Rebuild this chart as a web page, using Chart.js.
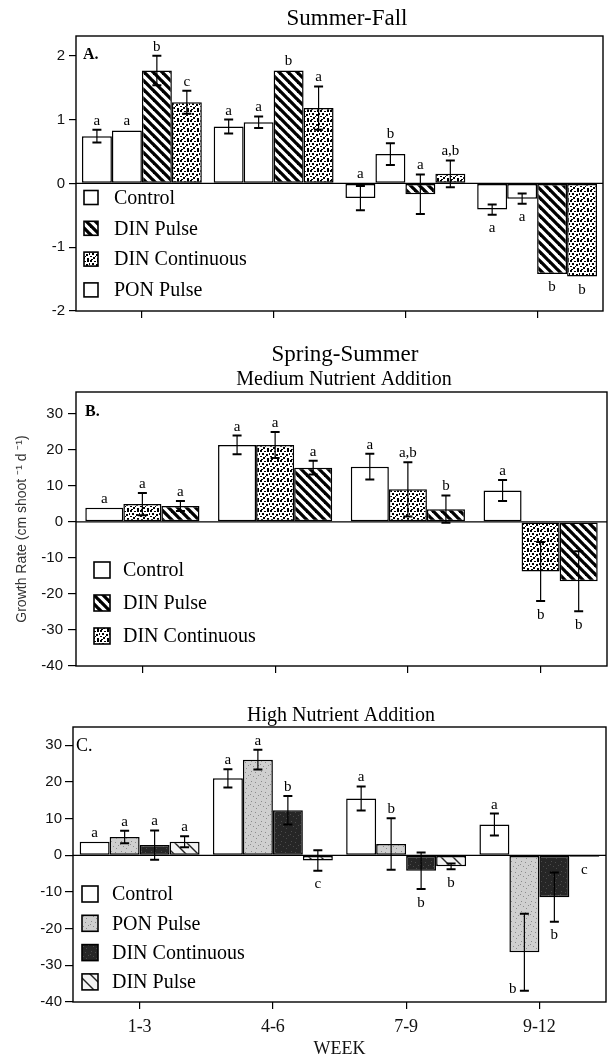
<!DOCTYPE html>
<html>
<head>
<meta charset="utf-8">
<script src="https://cdn.jsdelivr.net/npm/chart.js@4.4.1/dist/chart.umd.min.js"></script>
<style>
  html, body { margin: 0; padding: 0; background: #fff; }
  #fig { position: relative; width: 608px; height: 1060px; overflow: hidden; }
  #fig canvas { position: absolute; left: 0; }
</style>
</head>
<body>
<div id="fig">
  <canvas id="chartA" width="608" height="330" style="top:0px"></canvas>
  <canvas id="chartB" width="608" height="350" style="top:330px"></canvas>
  <canvas id="chartC" width="608" height="380" style="top:680px"></canvas>
</div>
<script>
// categories
const weeks = ["1-3", "4-6", "7-9", "9-12"];

// A. Summer-Fall
const ticksA = [-2, -1, 0, 1, 2];
const controlA = [0.74, 0.89, -0.23, -0.41];
const controlErrA = [0.10, 0.11, 0.19, 0.08];
const controlSigA = ["a", "a", "a", "a"];
const ponA = [0.83, 0.96, 0.46, -0.24];
const ponErrA = [0, 0.09, 0.17, 0.08];
const ponSigA = ["a", "a", "b", "a"];
const dinPulseA = [1.77, 1.77, -0.17, -1.42];
const dinPulseErrA = [0.23, 0, 0.31, 0];
const dinPulseSigA = ["b", "b", "a", "b"];
const dinContA = [1.27, 1.18, 0.15, -1.46];
const dinContErrA = [0.18, 0.34, 0.21, 0];
const dinContSigA = ["c", "a", "a,b", "b"];

// B. Spring-Summer, medium nutrient addition
const ticksB = [-40, -30, -20, -10, 0, 10, 20, 30];
const controlB = [3.9, 21.3, 15.3, 8.7];
const controlErrB = [0, 2.6, 3.6, 2.9];
const controlSigB = ["a", "a", "a", "a"];
const dinContB = [4.9, 21.3, 9.0, -13.8];
const dinContErrB = [3.1, 3.6, 7.5, 8.2];
const dinContSigB = ["a", "a", "a,b", "b"];
const dinPulseB = [4.4, 15.0, 3.5, -16.5];
const dinPulseErrB = [1.4, 1.9, 3.8, 8.3];
const dinPulseSigB = ["a", "a", "b", "b"];

// C. high nutrient addition
const ticksC = [-40, -30, -20, -10, 0, 10, 20, 30];
const controlC = [3.7, 21.0, 15.5, 8.4];
const controlErrC = [0, 2.5, 3.3, 3.0];
const controlSigC = ["a", "a", "a", "a"];
const ponC = [5.0, 26.1, 3.1, -26.4];
const ponErrC = [1.7, 2.7, 7.0, 10.5];
const ponSigC = ["a", "a", "b", "b"];
const dinContC = [2.8, 12.3, -4.2, -11.4];
const dinContErrC = [4.0, 3.9, 5.0, 6.7];
const dinContSigC = ["a", "b", "b", "b"];
const dinPulseC = [3.7, -1.4, -3.0, -0.4];
const dinPulseErrC = [1.5, 2.8, 0.8, 0];
const dinPulseSigC = ["a", "c", "b", "c"];

const SERIF = "'Liberation Serif', 'Times New Roman', serif";
Chart.defaults.font.family = "'Liberation Sans', Arial, sans-serif";
Chart.defaults.color = "#111";

// fill textures
function tile(w, h, paint) {
    const c = document.createElement("canvas");
    c.width = w; c.height = h;
    const g = c.getContext("2d");
    paint(g, w, h);
    return g.createPattern(c, "repeat");
}

function hatch(p, lw, bg, fg) {
    return tile(p, p, g => {
        g.fillStyle = bg; g.fillRect(0, 0, p, p);
        g.strokeStyle = fg; g.lineWidth = lw;
        for (let k = -1; k <= 1; k++) {
            g.beginPath();
            g.moveTo(k * p - p, -p);
            g.lineTo(k * p + 2 * p, 2 * p);
            g.stroke();
        }
    });
}

function speckle(bg, fg, spots) {
    return tile(10, 10, g => {
        g.fillStyle = bg; g.fillRect(0, 0, 10, 10);
        g.fillStyle = fg;
        spots.forEach(s => g.fillRect(s[0], s[1], s[2], s[3]));
    });
}

const blobSpots = [[0,0,2,2],[4,1,2,1],[7,0,2,2],[2,3,2,2],[6,4,2,2],[9,3,1,2],[0,6,2,1],[3,7,2,2],[7,8,2,2],[5,6,1,1],[1,9,2,1]];
const fineSpots = [[1,1,1,1],[5,2,1,1],[8,5,1,1],[3,6,1,1],[6,8,1,1],[0,4,1,1]];

const fillWhite = "#ffffff";
const fillHatch = hatch(9, 3.3, "#ffffff", "#000000");
const fillDots = speckle("#ffffff", "#000000", blobSpots);
const fillPonC = speckle("#cfcfcf", "#8c8c8c", fineSpots);
const fillDarkC = speckle("#262626", "#4a4a4a", fineSpots);
const fillHatchC = hatch(12, 1.4, "#f3f3f3", "#222222");

function makeDecor(cfg) {
    return {
        id: "decor",
        afterDatasetsDraw(chart) {
            const ctx = chart.ctx;
            const area = chart.chartArea;
            const y = chart.scales.y;
            ctx.save();
            ctx.strokeStyle = "#000";
            ctx.fillStyle = "#000";

            // zero line and frame
            const y0 = y.getPixelForValue(0);
            ctx.lineWidth = 1.3;
            ctx.beginPath(); ctx.moveTo(area.left, y0); ctx.lineTo(area.right, y0); ctx.stroke();
            ctx.lineWidth = 1.4;
            ctx.strokeRect(area.left, area.top, area.right - area.left, area.bottom - area.top);

            // error bars and significance letters
            chart.data.datasets.forEach((ds, d) => {
                const meta = chart.getDatasetMeta(d);
                meta.data.forEach((bar, i) => {
                    const v = ds.data[i];
                    const e = ds.errors[i] || 0;
                    const x = bar.x;
                    if (e > 0) {
                        const yHi = y.getPixelForValue(v + e);
                        const yLo = y.getPixelForValue(v - e);
                        ctx.lineWidth = 1.2;
                        ctx.beginPath(); ctx.moveTo(x, yHi); ctx.lineTo(x, yLo); ctx.stroke();
                        ctx.lineWidth = 2;
                        ctx.beginPath();
                        ctx.moveTo(x - 4.5, yHi); ctx.lineTo(x + 4.5, yHi);
                        ctx.moveTo(x - 4.5, yLo); ctx.lineTo(x + 4.5, yLo);
                        ctx.stroke();
                    }
                    const sig = ds.sig[i];
                    if (!sig) return;
                    ctx.font = "15px " + SERIF;
                    ctx.textAlign = "center";
                    const below = v < 0 && !cfg.keepAbove.includes(i);
                    if (below) {
                        const yEnd = y.getPixelForValue(Math.min(0, v, v - e));
                        if (yEnd + 22 > area.bottom) {
                            // no room under the bar: put it beside the error bar end
                            ctx.textAlign = "right";
                            ctx.textBaseline = "middle";
                            ctx.fillText(sig, x - 8, yEnd - 2);
                        } else {
                            ctx.textBaseline = "top";
                            ctx.fillText(sig, x, yEnd + 6);
                        }
                    } else {
                        ctx.textBaseline = "alphabetic";
                        ctx.fillText(sig, x, y.getPixelForValue(Math.max(0, v, v + e)) - 5);
                    }
                });
            });

            // titles
            ctx.textAlign = "center";
            ctx.textBaseline = "middle";
            cfg.titles.forEach(t => {
                ctx.font = t.font;
                ctx.fillText(t.text, t.x, t.y);
            });

            // panel letter
            ctx.textAlign = "left";
            ctx.font = cfg.panel.font;
            ctx.fillText(cfg.panel.text, cfg.panel.x, cfg.panel.y);

            // legend inside the plot
            const lg = cfg.legend;
            lg.items.forEach((name, k) => {
                const ds = chart.data.datasets.find(s => s.label === name);
                const cy = lg.y + k * lg.dy;
                ctx.fillStyle = ds.backgroundColor;
                ctx.fillRect(lg.x, cy - lg.box / 2, lg.box, lg.box);
                ctx.lineWidth = 1.6;
                ctx.strokeRect(lg.x, cy - lg.box / 2, lg.box, lg.box);
                ctx.fillStyle = "#000";
                ctx.font = "20px " + SERIF;
                ctx.textBaseline = "middle";
                ctx.fillText(name, lg.textX, cy + 1);
            });
            ctx.restore();
        }
    };
}

function buildPanel(id, p) {
    const datasets = p.series.map(s => ({
        label: s.label,
        data: s.data,
        errors: s.err,
        sig: s.sig,
        backgroundColor: s.fill,
        borderColor: "#000",
        borderWidth: 1.5,
        borderSkipped: false,
        categoryPercentage: p.catPct,
        barPercentage: 1
    }));

    return new Chart(document.getElementById(id), {
        type: "bar",
        data: { labels: weeks, datasets: datasets },
        options: {
            responsive: false,
            animation: false,
            devicePixelRatio: 1,
            events: [],
            layout: { padding: { top: p.top, right: p.right, bottom: 0, left: 0 } },
            plugins: {
                legend: { display: false },
                tooltip: { enabled: false }
            },
            scales: {
                x: {
                    grid: { display: true, drawOnChartArea: false, offset: false, tickLength: 7, color: "#000", lineWidth: 1.2 },
                    border: { display: false },
                    ticks: { display: p.showX, padding: 7, color: "#111", font: { family: SERIF, size: 18 } },
                    title: { display: p.showX, text: "WEEK", color: "#111", font: { family: SERIF, size: 18 }, padding: { top: 0, bottom: 0 } },
                    afterFit: s => { s.height = p.xHeight; }
                },
                y: {
                    min: p.min,
                    max: p.max,
                    grid: { display: true, drawOnChartArea: false, tickLength: p.tickLen, color: "#000", lineWidth: 1.2 },
                    border: { display: false },
                    ticks: { padding: p.tickPad, color: "#111", font: { size: 15 } },
                    title: {
                        display: !!p.yTitle,
                        text: p.yTitle || "",
                        color: "#333",
                        font: { size: 14 },
                        padding: { top: 14, bottom: 0 }
                    },
                    afterBuildTicks: s => { s.ticks = p.ticks.map(v => ({ value: v })); },
                    afterFit: s => { s.width = p.yWidth; }
                }
            }
        },
        plugins: [makeDecor(p.decor)]
    });
}

buildPanel("chartA", {
    top: 36, right: 5, xHeight: 19, yWidth: 76, tickLen: 7, tickPad: 4,
    min: -2, max: 2.31, ticks: ticksA, catPct: 0.91, showX: false,
    series: [
        { label: "Control", data: controlA, err: controlErrA, sig: controlSigA, fill: fillWhite },
        { label: "PON Pulse", data: ponA, err: ponErrA, sig: ponSigA, fill: fillWhite },
        { label: "DIN Pulse", data: dinPulseA, err: dinPulseErrA, sig: dinPulseSigA, fill: fillHatch },
        { label: "DIN Continuous", data: dinContA, err: dinContErrA, sig: dinContSigA, fill: fillDots }
    ],
    decor: {
        keepAbove: [0, 1, 2],
        titles: [{ text: "Summer-Fall", x: 347, y: 19, font: "23px " + SERIF }],
        panel: { text: "A.", x: 83, y: 55, font: "bold 16px " + SERIF },
        legend: { items: ["Control", "DIN Pulse", "DIN Continuous", "PON Pulse"], x: 84, y: 197.5, dy: 30.8, box: 14, textX: 114 }
    }
});

buildPanel("chartB", {
    top: 62, right: 1, xHeight: 14, yWidth: 76, tickLen: 8, tickPad: 5,
    min: -40, max: 36, ticks: ticksB, catPct: 0.86, showX: false,
    yTitle: "Growth Rate (cm shoot \u207B\u00B9 d \u207B\u00B9)",
    series: [
        { label: "Control", data: controlB, err: controlErrB, sig: controlSigB, fill: fillWhite },
        { label: "DIN Continuous", data: dinContB, err: dinContErrB, sig: dinContSigB, fill: fillDots },
        { label: "DIN Pulse", data: dinPulseB, err: dinPulseErrB, sig: dinPulseSigB, fill: fillHatch }
    ],
    decor: {
        keepAbove: [],
        titles: [
            { text: "Spring-Summer", x: 345, y: 25, font: "23px " + SERIF },
            { text: "Medium Nutrient Addition", x: 344, y: 50, font: "20px " + SERIF }
        ],
        panel: { text: "B.", x: 85, y: 82, font: "bold 16px " + SERIF },
        legend: { items: ["Control", "DIN Pulse", "DIN Continuous"], x: 94, y: 240, dy: 33, box: 16, textX: 123 }
    }
});

buildPanel("chartC", {
    top: 47, right: 2, xHeight: 58, yWidth: 73, tickLen: 8, tickPad: 3,
    min: -40, max: 35, ticks: ticksC, catPct: 0.9, showX: true,
    series: [
        { label: "Control", data: controlC, err: controlErrC, sig: controlSigC, fill: fillWhite },
        { label: "PON Pulse", data: ponC, err: ponErrC, sig: ponSigC, fill: fillPonC },
        { label: "DIN Continuous", data: dinContC, err: dinContErrC, sig: dinContSigC, fill: fillDarkC },
        { label: "DIN Pulse", data: dinPulseC, err: dinPulseErrC, sig: dinPulseSigC, fill: fillHatchC }
    ],
    decor: {
        keepAbove: [],
        titles: [{ text: "High Nutrient Addition", x: 341, y: 36, font: "20px " + SERIF }],
        panel: { text: "C.", x: 76, y: 66, font: "18px " + SERIF },
        legend: { items: ["Control", "PON Pulse", "DIN Continuous", "DIN Pulse"], x: 82, y: 214, dy: 29.3, box: 16, textX: 112 }
    }
});
</script>
</body>
</html>
